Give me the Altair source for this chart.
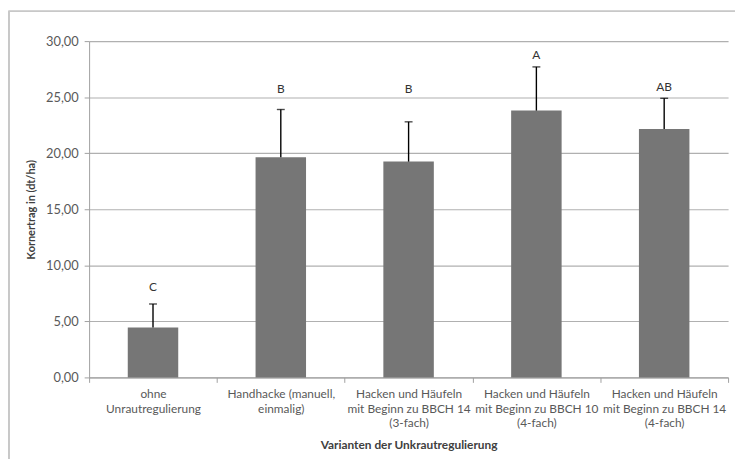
import altair as alt
import pandas as pd

categories = [
    "ohne|Unrautregulierung",
    "Handhacke (manuell,|einmalig)",
    "Hacken und Häufeln|mit Beginn zu BBCH 14|(3-fach)",
    "Hacken und Häufeln|mit Beginn zu BBCH 10|(4-fach)",
    "Hacken und Häufeln|mit Beginn zu BBCH 14|(4-fach)",
]
means = [4.45, 19.65, 19.25, 23.8, 22.15]
errors = [2.1, 4.25, 3.55, 3.9, 2.75]
letters = ["C", "B", "B", "A", "AB"]
letter_pos = [8.1, 25.7, 25.7, 28.8, 25.9]
y_ticks = [0, 5, 10, 15, 20, 25, 30]

df = pd.DataFrame({
    "cat": categories,
    "mean": means,
    "err": [m + e for m, e in zip(means, errors)],
    "letter": letters,
    "lpos": letter_pos,
})

FONT = "Lato"

x = alt.X(
    "cat:N", sort=categories,
    scale=alt.Scale(paddingInner=0, paddingOuter=0),
    axis=alt.Axis(
        title="Varianten der Unkrautregulierung",
        labelExpr="split(datum.label, '|')",
        labelAngle=0, labelFontSize=12, labelColor="#595959", labelFont=FONT,
        labelLineHeight=15, labelPadding=6, labelBaseline="top",
        tickBand="extent", tickSize=5, tickColor="#a0a0a0",
        domainColor="#a0a0a0", titleFont=FONT, titleFontSize=12,
        titleFontWeight="bold", titleColor="#404040", titlePadding=11,
        grid=False,
    ),
)
y_scale = alt.Scale(domain=[0, 30], nice=False)

bars = alt.Chart(df).mark_bar(color="#767676", width=alt.RelativeBandSize(0.395)).encode(
    x=x,
    y=alt.Y("mean:Q", scale=y_scale, axis=alt.Axis(
        title="Kornertrag in (dt/ha)", values=y_ticks,
        labelExpr="replace(format(datum.value, '.2f'), '.', ',')",
        labelFont=FONT, labelFontSize=13, labelColor="#595959", labelPadding=6,
        tickSize=5, tickColor="#a0a0a0", domainColor="#a0a0a0",
        gridColor="#b0b0b0", gridWidth=1.2,
        titleFont=FONT, titleFontSize=11, titleFontWeight="bold",
        titleColor="#404040", titlePadding=9,
    )),
)

rules = alt.Chart(df).mark_rule(color="#000000", strokeWidth=1.4).encode(
    x=alt.X("cat:N", sort=categories), y="mean:Q", y2="err:Q"
)
caps = alt.Chart(df).mark_tick(color="#000000", thickness=1.4, size=8).encode(
    x=alt.X("cat:N", sort=categories), y="err:Q"
)
text = alt.Chart(df).mark_text(font=FONT, fontSize=12, color="#333333", baseline="middle").encode(
    x=alt.X("cat:N", sort=categories), y="lpos:Q", text="letter:N"
)
frame = alt.Chart(df).mark_rect(fill=None, stroke="#c8c8c8", strokeWidth=1.2).encode(
    x=alt.value(-81), x2=alt.value(700), y=alt.value(-30), y2=alt.value(500)
)

chart = alt.layer(frame, bars, rules, caps, text).properties(
    width=646, height=340,
    autosize=alt.AutoSizeParams(type="none"),
    padding={"left": 82, "top": 31, "right": 7, "bottom": 80},
).configure_view(stroke=None)

chart.save("out.html", embed_options={"renderer": "svg", "actions": False})
